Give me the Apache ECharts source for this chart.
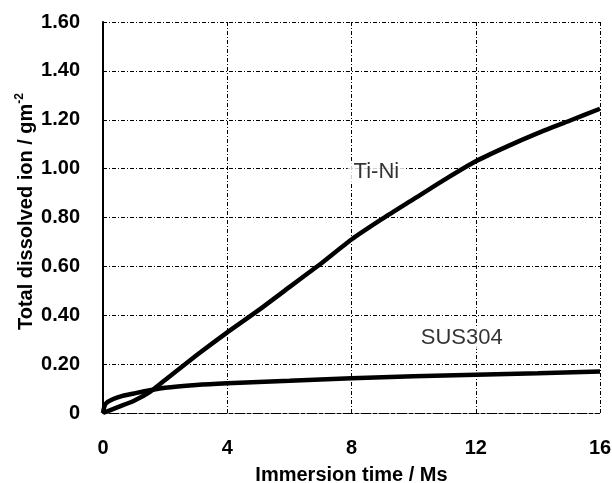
<!DOCTYPE html>
<html>
<head>
<meta charset="utf-8">
<script src="https://cdn.jsdelivr.net/npm/echarts@6/dist/echarts.min.js"></script>
<style>
html,body{margin:0;padding:0;background:#fff;}
#chart{width:612px;height:483px;}
</style>
</head>
<body>
<div id="chart"></div>
<script>
// immersion time (Ms) and dissolved ion (g m^-2)
var tiniTime = [0, 0.5, 1, 1.5, 2, 3, 4, 5, 6, 7, 8, 9, 10, 11, 12, 13, 14, 15, 16];
var tiniIon  = [0, 0.025, 0.05, 0.085, 0.135, 0.235, 0.33, 0.42, 0.515, 0.61, 0.71, 0.795, 0.875, 0.955, 1.03, 1.09, 1.145, 1.195, 1.245];
var susTime = [0, 0.1, 0.5, 1, 2, 3, 4, 6, 8, 10, 12, 14, 16];
var susIon  = [0, 0.04, 0.065, 0.08, 0.103, 0.115, 0.122, 0.132, 0.142, 0.15, 0.157, 0.163, 0.17];
var labels = [
  {text: 'Ti-Ni', x: 8.8, y: 0.985},
  {text: 'SUS304', x: 11.55, y: 0.307}
];

function pairs(xs, ys){
  var out = [];
  for(var i=0;i<xs.length;i++){ out.push([xs[i], ys[i]]); }
  return out;
}

var font = 'Liberation Sans, Arial, sans-serif';
var gridStyle = {color: '#000', width: 1, type: [4, 2, 1, 2]};
var chart = echarts.init(document.getElementById('chart'));
var option = {
  animation: false,
  backgroundColor: '#fff',
  grid: {left: 103, right: 12, top: 22, bottom: 70, show: false, containLabel: false, outerBoundsMode: 'none'},
  xAxis: {
    type: 'value', min: 0, max: 16, interval: 4,
    axisLine: {show: true, onZero: false, lineStyle: {color: '#000', width: 1, type: [4, 2]}},
    axisTick: {show: false},
    splitLine: {show: true, lineStyle: gridStyle},
    axisLabel: {color: '#000', fontFamily: font, fontWeight: 'bold', fontSize: 20, margin: 25},
    name: 'Immersion time / Ms', nameLocation: 'middle', nameGap: 52, nameMoveOverlap: false,
    nameTextStyle: {color: '#000', fontFamily: font, fontWeight: 'bold', fontSize: 20}
  },
  yAxis: {
    type: 'value', min: 0, max: 1.6, interval: 0.2,
    axisLine: {show: true, lineStyle: {color: '#000', width: 2}},
    axisTick: {show: false},
    splitLine: {show: true, lineStyle: gridStyle},
    axisLabel: {
      color: '#000', fontFamily: font, fontWeight: 'bold', fontSize: 20, margin: 23,
      formatter: function(v){ return v === 0 ? '0' : v.toFixed(2); }
    },
    name: '{n|Total dissolved ion / gm}{s|-2}', nameLocation: 'middle', nameGap: 65, nameRotate: 90,
    nameMoveOverlap: false,
    nameTextStyle: {
      padding: [0, 0, 0, 12],
      rich: {
        n: {color: '#000', fontFamily: font, fontWeight: 'bold', fontSize: 20, lineHeight: 24},
        s: {color: '#000', fontFamily: font, fontWeight: 'bold', fontSize: 12, lineHeight: 24, verticalAlign: 'top', padding: [0, 0, 10, 0]}
      }
    }
  },
  series: [
    {
      name: 'Ti-Ni', type: 'line', data: pairs(tiniTime, tiniIon), smooth: 0.2,
      symbol: 'none', lineStyle: {color: '#000', width: 4.5}
    },
    {
      name: 'SUS304', type: 'line', data: pairs(susTime, susIon), smooth: 0.3,
      symbol: 'none', lineStyle: {color: '#000', width: 4.5}
    },
    {
      type: 'scatter', symbolSize: 0,
      data: labels.map(function(l){ return {value: [l.x, l.y], name: l.text}; }),
      label: {
        show: true, position: 'inside', formatter: '{b}',
        color: '#000', fontFamily: font, fontSize: 22,
        backgroundColor: '#fff', padding: [0, 6]
      }
    }
  ]
};
chart.setOption(option);
</script>
</body>
</html>
